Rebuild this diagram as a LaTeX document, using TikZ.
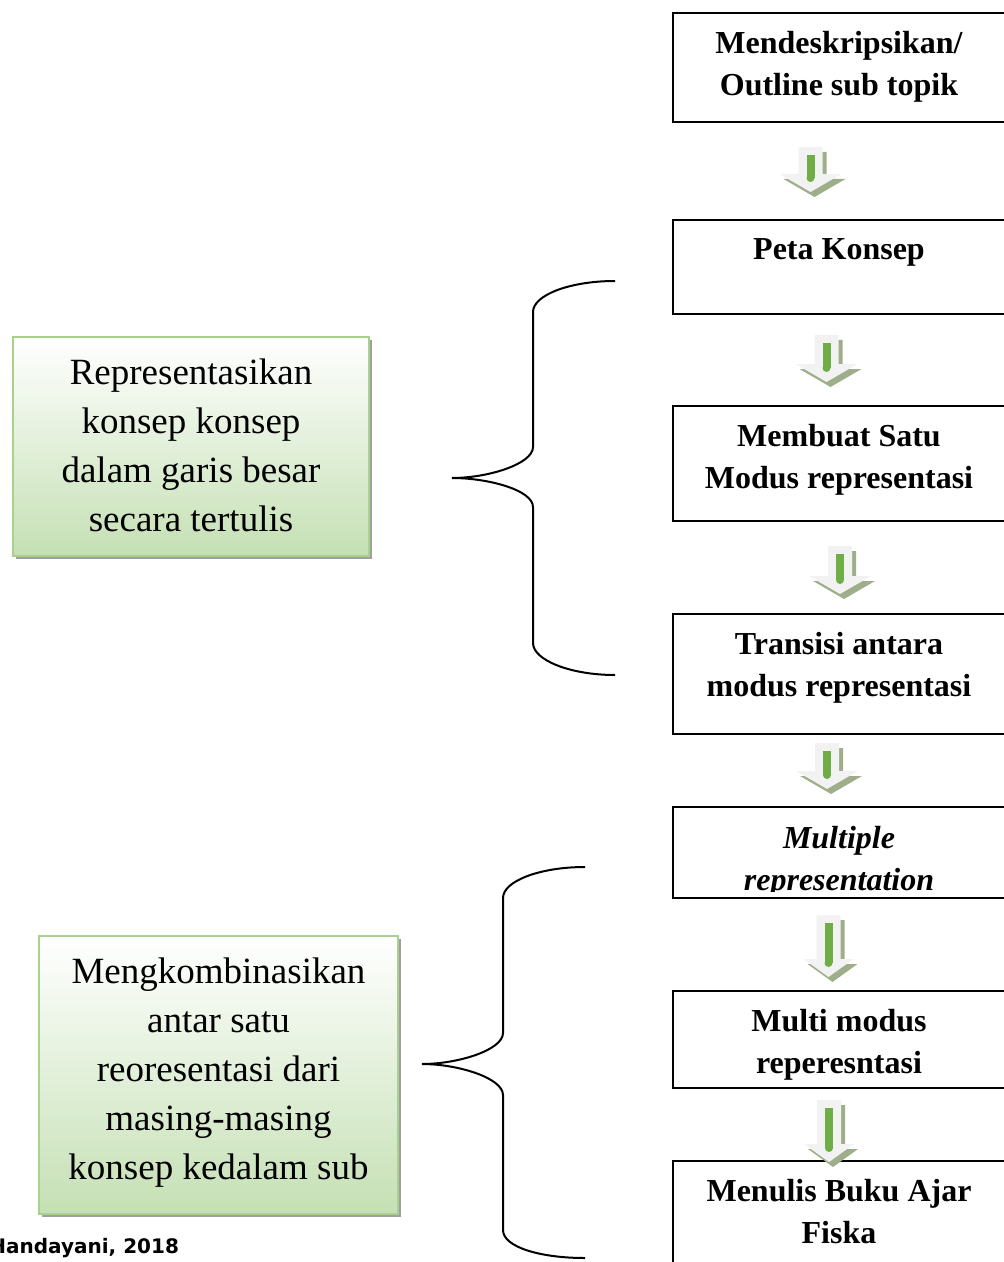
\documentclass[tikz,border=0pt]{standalone}
\usepackage{fontspec}
\setmainfont{Liberation Serif}
\newfontfamily\creditfont{DejaVu Sans}
\usetikzlibrary{positioning,shadows,calc}
\definecolor{notegreen}{RGB}{197,224,180}
\definecolor{noteborder}{RGB}{169,209,142}
\definecolor{arrowbody}{RGB}{242,242,242}
\definecolor{arrowshade}{RGB}{158,174,138}
\definecolor{arrowgreen}{RGB}{112,173,71}

\begin{document}
\begin{tikzpicture}[x=0.5pt, y=-0.5pt,
  stepbox/.style={draw, line width=1pt, minimum width=166pt, anchor=north west, inner sep=0pt},
  steptext/.style={align=center, inner sep=0pt, font=\fontsize{16}{21}\selectfont\bfseries},
  stepitalic/.style={steptext, font=\fontsize{16}{21}\selectfont\bfseries\itshape},
  notebox/.style={draw=noteborder, line width=1pt, top color=white, bottom color=notegreen,
                  drop shadow={shadow xshift=1.5pt, shadow yshift=-1.5pt, fill=gray!75, opacity=1},
                  anchor=north west, inner sep=0pt},
  notetext/.style={align=center, inner sep=0pt, font=\fontsize{18.5}{24.5}\selectfont},
  brace/.style={line width=1pt},
  pics/downarrow/.style 2 args={code={
    \foreach \dx/\dy/\col in {4/5/arrowshade, 0/0/arrowbody}
      \fill[\col, shift={(\dx,\dy)}] (-12,0) -- (12,0) -- (12,#1-18) -- (#2,#1-18)
        -- (0,#1) -- (-#2,#1-18) -- (-12,#1-18) -- cycle;
    \draw[arrowgreen, line width=4pt] (0,8) -- (0,#1-14);
    \fill[arrowgreen] (0,#1-14) circle (2pt);
  }}]

\useasboundingbox (0,0) rectangle (1003,1262);

% steps on the right
\node[stepbox, minimum height=54.5pt] (b1) at (672,12) {};
\node[stepbox, minimum height=47pt]   (b2) at (672,219) {};
\node[stepbox, minimum height=57.5pt] (b3) at (672,405) {};
\node[stepbox, minimum height=60pt]   (b4) at (672,613) {};
\node[stepbox, minimum height=45.5pt] (b5) at (672,806) {};
\node[stepbox, minimum height=48.5pt] (b6) at (672,990) {};
\node[stepbox, minimum height=60pt]   (b7) at (672,1160) {};

\node[steptext, below=9.5pt of b1.north] (t1) {Mendeskripsikan/\\Outline sub topik};
\node[steptext, below=9.5pt of b2.north] (t2) {Peta Konsep};
\node[steptext, below=9.5pt of b3.north] (t3) {Membuat Satu\\Modus representasi};
\node[steptext, below=9.5pt of b4.north] (t4) {Transisi antara\\modus representasi};
\begin{scope}
  \clip (b5.north west) rectangle ([yshift=4pt]b5.south east);
  \node[stepitalic, below=10pt of b5.north] (t5) {Multiple\\representation};
\end{scope}
\node[steptext, below=9.5pt of b6.north] (t6) {Multi modus\\reperesntasi};
\node[steptext, below=9.5pt of b7.north] (t7) {Menulis Buku Ajar\\Fiska};

% block arrows between the steps
\path (b1.south) ++(-28.5,24) pic {downarrow={45}{31}};
\path (b2.south) ++(-12.5,20) pic {downarrow={47}{31}};
\path (b3.south) ++(1,24)     pic {downarrow={48}{31}};
\path (b4.south) ++(-12,8)    pic {downarrow={46}{31}};
\path (b5.south) ++(-10.5,16) pic {downarrow={62}{25}};
\path (b6.south) ++(-10,11)   pic {downarrow={62}{25}};

% notes on the left
\node[notebox, minimum width=178pt, minimum height=109.5pt] (nA) at (12,336) {};
\node[notetext, below=11pt of nA.north] (tA) {Representasikan\\konsep konsep\\dalam garis besar\\secara tertulis};
\node[notebox, minimum width=179.5pt, minimum height=139pt] (nB) at (38,935) {};
\node[notetext, below=11pt of nB.north] (tB) {Mengkombinasikan\\antar satu\\reoresentasi dari\\masing-masing\\konsep kedalam sub};

% braces
\draw[brace] (615,281) .. controls (570,281) and (533,295) .. (533,312) -- (533,447)
  .. controls (533,464) and (488,478) .. (452,478)
  .. controls (488,478) and (533,490) .. (533,507) -- (533,643)
  .. controls (533,660) and (570,675) .. (615,675);
\draw[brace] (585,867) .. controls (540,867) and (503,881) .. (503,898) -- (503,1033)
  .. controls (503,1050) and (458,1064) .. (422,1064)
  .. controls (458,1064) and (503,1078) .. (503,1095) -- (503,1230)
  .. controls (503,1247) and (540,1258) .. (585,1258);

\node[anchor=base west, inner sep=0pt, font=\creditfont\bfseries\fontsize{10}{12}\selectfont] (credit) at (-11,1253) {Handayani, 2018};
\end{tikzpicture}
\end{document}
